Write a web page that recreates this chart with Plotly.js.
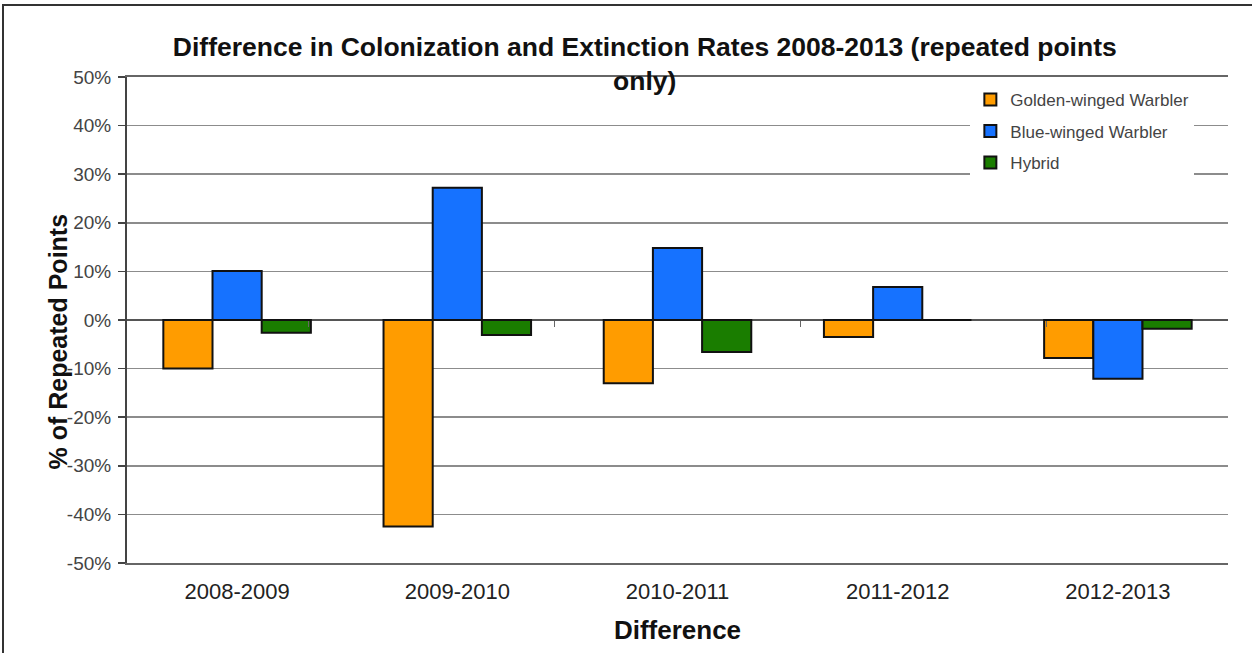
<!DOCTYPE html>
<html>
<head>
<meta charset="utf-8">
<script src="https://cdn.plot.ly/plotly-3.0.1.min.js"></script>
<style>
  html, body { margin: 0; padding: 0; background: #fff; }
  #wrap { position: relative; width: 1252px; height: 653px; overflow: hidden; }
  #chart { position: absolute; left: 0; top: 0; width: 1252px; height: 653px; }
  #frame { position: absolute; left: 2px; top: 4px; width: 1300px; height: 700px;
           border-top: 2px solid #333; border-left: 2px solid #333; pointer-events: none; }
</style>
</head>
<body>
<div id="wrap">
  <div id="chart"></div>
  <div id="frame"></div>
</div>
<script>
// Data (fraction values, shown as percent)
const categories = ["2008-2009", "2009-2010", "2010-2011", "2011-2012", "2012-2013"];
const seriesNames = ["Golden-winged Warbler", "Blue-winged Warbler", "Hybrid"];
const goldenWinged = [-0.100, -0.425, -0.130, -0.035, -0.078];
const blueWinged   = [ 0.101,  0.272,  0.148,  0.068, -0.121];
const hybrid       = [-0.026, -0.031, -0.066,  0.000, -0.018];
const yTickVals = [-0.5, -0.4, -0.3, -0.2, -0.1, 0, 0.1, 0.2, 0.3, 0.4, 0.5];
const yTickText = ["-50%", "-40%", "-30%", "-20%", "-10%", "0%", "10%", "20%", "30%", "40%", "50%"];
const chartTitle = "Difference in Colonization and Extinction Rates 2008-2013 (repeated points<br>only)";
const xTitle = "Difference";
const yTitle = "% of Repeated Points";

const colors = ["#FF9C00", "#1672FF", "#1A7D00"];
const values = [goldenWinged, blueWinged, hybrid];
const font = "Liberation Sans, Arial, sans-serif";

const traces = values.map((v, i) => ({
  type: "bar",
  name: seriesNames[i],
  x: categories,
  y: v,
  legendgroup: "g" + i,
  marker: { color: colors[i], line: { color: "#111", width: 2 } },
  hoverinfo: "x+y+name"
}));

// helper trace to carry the category tick marks on the zero line
traces.push({
  type: "scatter", mode: "markers", x: categories, y: categories.map(() => null),
  xaxis: "x2", showlegend: false, hoverinfo: "skip"
});

const layout = {
  width: 1252, height: 653,
  margin: { l: 127, r: 24, t: 77, b: 90 },
  paper_bgcolor: "#fff", plot_bgcolor: "#fff",
  font: { family: font, color: "#222", size: 16 },
  title: {
    text: "<b>" + chartTitle + "</b>",
    font: { family: font, size: 26.5, color: "#111" },
    xref: "container", x: 0.515, xanchor: "center",
    yref: "container", y: 0.915, yanchor: "top"
  },
  barmode: "group",
  bargap: 0.33,
  bargroupgap: 0,
  xaxis: {
    type: "category",
    categoryorder: "array", categoryarray: categories,
    showgrid: false, zeroline: false,
    showline: true, linecolor: "#666", linewidth: 2, mirror: true,
    ticks: "", tickfont: { family: font, size: 22, color: "#222" },
    ticklabelstandoff: 8,
    title: { text: "<b>" + xTitle + "</b>", font: { family: font, size: 26, color: "#111" }, standoff: 17 }
  },
  xaxis2: {
    type: "category", overlaying: "x", anchor: "free", position: 0.5,
    categoryorder: "array", categoryarray: categories,
    showgrid: false, zeroline: false, showline: false,
    tickson: "boundaries", ticks: "outside", ticklen: 6, tickwidth: 1.5, tickcolor: "#666",
    showticklabels: false
  },
  yaxis: {
    range: [-0.5, 0.5],
    tickvals: yTickVals, ticktext: yTickText,
    showgrid: true, gridcolor: "#8c8c8c", gridwidth: 1.5,
    zeroline: true, zerolinecolor: "#555", zerolinewidth: 2,
    showline: true, linecolor: "#444", linewidth: 2,
    ticks: "outside", ticklen: 7, tickcolor: "#444", tickwidth: 1.5,
    ticklabelstandoff: 3,
    tickfont: { family: font, size: 19, color: "#444" }
  },
  annotations: [{
    text: "<b>" + yTitle + "</b>",
    textangle: -90,
    xref: "paper", yref: "paper",
    x: -0.063, y: 0.455, xanchor: "center", yanchor: "middle",
    showarrow: false,
    font: { family: font, size: 25, color: "#111" }
  }],
  legend: {
    x: 0.766, xanchor: "left", y: 0.99, yanchor: "top",
    bgcolor: "#fff", borderwidth: 0,
    font: { family: font, size: 17, color: "#444" },
    traceorder: "grouped", tracegroupgap: 6.5,
    itemwidth: 30
  },
  showlegend: true
};

Plotly.newPlot("chart", traces, layout, { displayModeBar: false, staticPlot: true });
</script>
</body>
</html>
